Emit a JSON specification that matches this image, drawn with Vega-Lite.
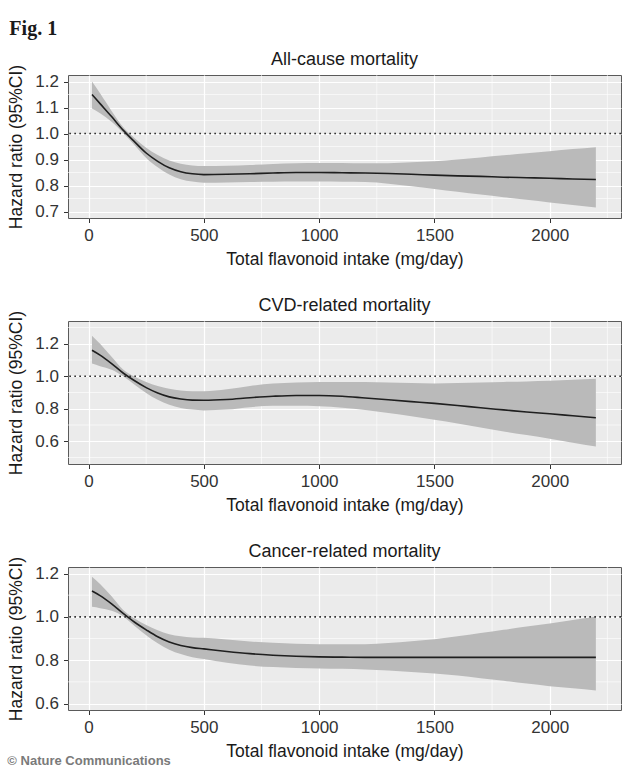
{
  "$schema": "https://vega.github.io/schema/vega-lite/v6.json",
  "padding": {"left": 7, "top": 19, "right": 5, "bottom": 0},
  "config": {
    "font": "Liberation Sans",
    "view": {"fill": "#ebebeb", "stroke": "#5a5a5a", "strokeWidth": 1},
    "axis": {"domain": false, "tickColor": "#333333", "tickSize": 4.5, "tickWidth": 1, "tickCount": 30, "labelFontSize": 17, "labelColor": "#333333", "labelPadding": 5, "titleFontSize": 17.5, "titleFontWeight": "normal", "titleColor": "#1a1a1a", "gridColor": "#ffffff", "gridWidth": 1.2, "labelOverlap": false, "labelFlush": false},
    "axisX": {"titlePadding": 7},
    "axisY": {"titlePadding": 9},
    "title": {"fontSize": 18, "fontWeight": "normal", "color": "#1a1a1a", "anchor": "middle", "frame": "group", "offset": -4.5}
  },
  "title": {"text": "© Nature Communications", "orient": "bottom", "anchor": "start", "frame": "bounds", "font": "Liberation Sans", "fontSize": 13, "fontWeight": "bold", "color": "#7a7a7a", "offset": -6},
  "datasets": {
    "one": [{}],
    "xminor": [{"v": 250}, {"v": 750}, {"v": 1250}, {"v": 1750}, {"v": 2250}],
    "yminor1": [{"v": 0.75}, {"v": 0.85}, {"v": 0.95}, {"v": 1.05}, {"v": 1.15}],
    "yminor2": [{"v": 0.5}, {"v": 0.7}, {"v": 0.9}, {"v": 1.1}, {"v": 1.3}],
    "yminor3": [{"v": 0.7}, {"v": 0.9}, {"v": 1.1}],
    "allcause": [
      {"x": 15, "est": 1.15, "lo": 1.096, "hi": 1.2},
      {"x": 50, "est": 1.115, "lo": 1.078, "hi": 1.155},
      {"x": 100, "est": 1.065, "lo": 1.045, "hi": 1.087},
      {"x": 150, "est": 1.013, "lo": 1.002, "hi": 1.025},
      {"x": 200, "est": 0.968, "lo": 0.955, "hi": 0.982},
      {"x": 250, "est": 0.925, "lo": 0.906, "hi": 0.945},
      {"x": 300, "est": 0.893, "lo": 0.87, "hi": 0.917},
      {"x": 350, "est": 0.868, "lo": 0.842, "hi": 0.896},
      {"x": 400, "est": 0.853, "lo": 0.824, "hi": 0.884},
      {"x": 450, "est": 0.845, "lo": 0.815, "hi": 0.877},
      {"x": 500, "est": 0.842, "lo": 0.811, "hi": 0.875},
      {"x": 600, "est": 0.843, "lo": 0.812, "hi": 0.876},
      {"x": 700, "est": 0.845, "lo": 0.813, "hi": 0.879},
      {"x": 800, "est": 0.848, "lo": 0.814, "hi": 0.883},
      {"x": 900, "est": 0.85, "lo": 0.815, "hi": 0.886},
      {"x": 1000, "est": 0.85, "lo": 0.815, "hi": 0.887},
      {"x": 1100, "est": 0.849, "lo": 0.814, "hi": 0.887},
      {"x": 1200, "est": 0.848, "lo": 0.813, "hi": 0.886},
      {"x": 1300, "est": 0.846, "lo": 0.807, "hi": 0.886},
      {"x": 1400, "est": 0.843, "lo": 0.797, "hi": 0.889},
      {"x": 1500, "est": 0.84, "lo": 0.787, "hi": 0.893},
      {"x": 1600, "est": 0.837, "lo": 0.776, "hi": 0.9},
      {"x": 1700, "est": 0.835, "lo": 0.765, "hi": 0.908},
      {"x": 1800, "est": 0.832, "lo": 0.755, "hi": 0.916},
      {"x": 1900, "est": 0.83, "lo": 0.745, "hi": 0.924},
      {"x": 2000, "est": 0.828, "lo": 0.735, "hi": 0.932},
      {"x": 2100, "est": 0.825, "lo": 0.725, "hi": 0.94},
      {"x": 2200, "est": 0.823, "lo": 0.715, "hi": 0.947}
    ],
    "cvd": [
      {"x": 15, "est": 1.16, "lo": 1.078, "hi": 1.25},
      {"x": 50, "est": 1.13, "lo": 1.062, "hi": 1.2},
      {"x": 100, "est": 1.078, "lo": 1.04, "hi": 1.12},
      {"x": 150, "est": 1.02, "lo": 1.0, "hi": 1.042},
      {"x": 200, "est": 0.972, "lo": 0.948, "hi": 0.997},
      {"x": 250, "est": 0.93, "lo": 0.897, "hi": 0.965},
      {"x": 300, "est": 0.897, "lo": 0.855, "hi": 0.94},
      {"x": 350, "est": 0.873, "lo": 0.825, "hi": 0.923},
      {"x": 400, "est": 0.86, "lo": 0.805, "hi": 0.913},
      {"x": 450, "est": 0.853, "lo": 0.795, "hi": 0.908},
      {"x": 500, "est": 0.852, "lo": 0.79, "hi": 0.908},
      {"x": 600, "est": 0.857, "lo": 0.795, "hi": 0.92},
      {"x": 700, "est": 0.868, "lo": 0.81, "hi": 0.94},
      {"x": 800, "est": 0.877, "lo": 0.818, "hi": 0.955},
      {"x": 900, "est": 0.882, "lo": 0.818, "hi": 0.962},
      {"x": 1000, "est": 0.882, "lo": 0.815, "hi": 0.965},
      {"x": 1100, "est": 0.877, "lo": 0.806, "hi": 0.965},
      {"x": 1200, "est": 0.866, "lo": 0.792, "hi": 0.964},
      {"x": 1300, "est": 0.855, "lo": 0.774, "hi": 0.962},
      {"x": 1400, "est": 0.844, "lo": 0.754, "hi": 0.959},
      {"x": 1500, "est": 0.833, "lo": 0.733, "hi": 0.956},
      {"x": 1600, "est": 0.82, "lo": 0.71, "hi": 0.958},
      {"x": 1700, "est": 0.806, "lo": 0.685, "hi": 0.962},
      {"x": 1800, "est": 0.793, "lo": 0.66, "hi": 0.965},
      {"x": 1900, "est": 0.78, "lo": 0.638, "hi": 0.968},
      {"x": 2000, "est": 0.769, "lo": 0.616, "hi": 0.972},
      {"x": 2100, "est": 0.757, "lo": 0.591, "hi": 0.978},
      {"x": 2200, "est": 0.745, "lo": 0.567, "hi": 0.984}
    ],
    "cancer": [
      {"x": 15, "est": 1.119, "lo": 1.046, "hi": 1.185},
      {"x": 50, "est": 1.098, "lo": 1.04, "hi": 1.152},
      {"x": 100, "est": 1.06, "lo": 1.028, "hi": 1.095},
      {"x": 150, "est": 1.016, "lo": 1.003, "hi": 1.032},
      {"x": 200, "est": 0.975, "lo": 0.958, "hi": 0.992},
      {"x": 250, "est": 0.94, "lo": 0.915, "hi": 0.962},
      {"x": 300, "est": 0.908, "lo": 0.878, "hi": 0.938},
      {"x": 350, "est": 0.884, "lo": 0.848, "hi": 0.92},
      {"x": 400, "est": 0.868, "lo": 0.828, "hi": 0.91},
      {"x": 450, "est": 0.858, "lo": 0.814, "hi": 0.905},
      {"x": 500, "est": 0.852, "lo": 0.805, "hi": 0.903},
      {"x": 600, "est": 0.84, "lo": 0.788, "hi": 0.895},
      {"x": 700, "est": 0.83, "lo": 0.775, "hi": 0.886},
      {"x": 800, "est": 0.823, "lo": 0.768, "hi": 0.88},
      {"x": 900, "est": 0.818, "lo": 0.764, "hi": 0.876},
      {"x": 1000, "est": 0.815, "lo": 0.762, "hi": 0.874},
      {"x": 1100, "est": 0.814, "lo": 0.76, "hi": 0.873},
      {"x": 1200, "est": 0.813, "lo": 0.757, "hi": 0.874},
      {"x": 1300, "est": 0.813, "lo": 0.752, "hi": 0.879},
      {"x": 1400, "est": 0.813, "lo": 0.745, "hi": 0.887},
      {"x": 1500, "est": 0.813, "lo": 0.738, "hi": 0.896},
      {"x": 1600, "est": 0.813, "lo": 0.729, "hi": 0.91},
      {"x": 1700, "est": 0.813, "lo": 0.717, "hi": 0.925},
      {"x": 1800, "est": 0.813, "lo": 0.705, "hi": 0.94},
      {"x": 1900, "est": 0.813, "lo": 0.692, "hi": 0.955},
      {"x": 2000, "est": 0.813, "lo": 0.68, "hi": 0.969},
      {"x": 2100, "est": 0.813, "lo": 0.67, "hi": 0.985},
      {"x": 2200, "est": 0.813, "lo": 0.66, "hi": 1.0}
    ]
  },
  "vconcat": [
    {
      "title": {"text": "Fig. 1", "anchor": "start", "frame": "bounds", "font": "Liberation Serif", "fontSize": 20, "fontWeight": "bold", "color": "#1a1a1a", "offset": 11, "dx": 2},
      "spacing": 27,
      "vconcat": [
        {
          "width": 553, "height": 143,
          "title": {"text": "All-cause mortality"},
          "layer": [
            {
              "data": {"name": "xminor"},
              "mark": {"type": "rule", "color": "#ffffff", "strokeWidth": 0.6},
              "encoding": {"x": {"field": "v", "type": "quantitative"}}
            },
            {
              "data": {"name": "yminor1"},
              "mark": {"type": "rule", "color": "#ffffff", "strokeWidth": 0.6},
              "encoding": {"y": {"field": "v", "type": "quantitative"}}
            },
            {
              "data": {"name": "allcause"},
              "mark": {"type": "area", "color": "#bababa", "interpolate": "monotone"},
              "encoding": {
                "x": {"field": "x", "type": "quantitative", "scale": {"domain": [-89, 2309], "nice": false, "zero": false},
                  "axis": {"title": "Total flavonoid intake (mg/day)", "values": [0, 500, 1000, 1500, 2000], "format": "d"}},
                "y": {"field": "lo", "type": "quantitative", "scale": {"domain": [0.675, 1.225], "nice": false, "zero": false},
                  "axis": {"title": "Hazard ratio (95%CI)", "values": [0.7, 0.8, 0.9, 1.0, 1.1, 1.2], "format": ".1f", "tickCount": 30}},
                "y2": {"field": "hi"}
              }
            },
            {
              "data": {"name": "one"},
              "mark": {"type": "rule", "color": "#333333", "strokeDash": [1.7, 3.3], "strokeWidth": 1.7},
              "encoding": {"y": {"datum": 1}}
            },
            {
              "data": {"name": "allcause"},
              "mark": {"type": "line", "color": "#1f1f1f", "strokeWidth": 1.6, "interpolate": "monotone"},
              "encoding": {
                "x": {"field": "x", "type": "quantitative"},
                "y": {"field": "est", "type": "quantitative"}
              }
            }
          ]
        },
        {
          "width": 553, "height": 143,
          "title": {"text": "CVD-related mortality"},
          "layer": [
            {
              "data": {"name": "xminor"},
              "mark": {"type": "rule", "color": "#ffffff", "strokeWidth": 0.6},
              "encoding": {"x": {"field": "v", "type": "quantitative"}}
            },
            {
              "data": {"name": "yminor2"},
              "mark": {"type": "rule", "color": "#ffffff", "strokeWidth": 0.6},
              "encoding": {"y": {"field": "v", "type": "quantitative"}}
            },
            {
              "data": {"name": "cvd"},
              "mark": {"type": "area", "color": "#bababa", "interpolate": "monotone"},
              "encoding": {
                "x": {"field": "x", "type": "quantitative", "scale": {"domain": [-89, 2309], "nice": false, "zero": false},
                  "axis": {"title": "Total flavonoid intake (mg/day)", "values": [0, 500, 1000, 1500, 2000], "format": "d"}},
                "y": {"field": "lo", "type": "quantitative", "scale": {"domain": [0.46, 1.34], "nice": false, "zero": false},
                  "axis": {"title": "Hazard ratio (95%CI)", "values": [0.6, 0.8, 1.0, 1.2], "format": ".1f", "tickCount": 30}},
                "y2": {"field": "hi"}
              }
            },
            {
              "data": {"name": "one"},
              "mark": {"type": "rule", "color": "#333333", "strokeDash": [1.7, 3.3], "strokeWidth": 1.7},
              "encoding": {"y": {"datum": 1}}
            },
            {
              "data": {"name": "cvd"},
              "mark": {"type": "line", "color": "#1f1f1f", "strokeWidth": 1.6, "interpolate": "monotone"},
              "encoding": {
                "x": {"field": "x", "type": "quantitative"},
                "y": {"field": "est", "type": "quantitative"}
              }
            }
          ]
        },
        {
          "width": 553, "height": 143,
          "title": {"text": "Cancer-related mortality"},
          "layer": [
            {
              "data": {"name": "xminor"},
              "mark": {"type": "rule", "color": "#ffffff", "strokeWidth": 0.6},
              "encoding": {"x": {"field": "v", "type": "quantitative"}}
            },
            {
              "data": {"name": "yminor3"},
              "mark": {"type": "rule", "color": "#ffffff", "strokeWidth": 0.6},
              "encoding": {"y": {"field": "v", "type": "quantitative"}}
            },
            {
              "data": {"name": "cancer"},
              "mark": {"type": "area", "color": "#bababa", "interpolate": "monotone"},
              "encoding": {
                "x": {"field": "x", "type": "quantitative", "scale": {"domain": [-89, 2309], "nice": false, "zero": false},
                  "axis": {"title": "Total flavonoid intake (mg/day)", "values": [0, 500, 1000, 1500, 2000], "format": "d"}},
                "y": {"field": "lo", "type": "quantitative", "scale": {"domain": [0.57, 1.23], "nice": false, "zero": false},
                  "axis": {"title": "Hazard ratio (95%CI)", "values": [0.6, 0.8, 1.0, 1.2], "format": ".1f", "tickCount": 30}},
                "y2": {"field": "hi"}
              }
            },
            {
              "data": {"name": "one"},
              "mark": {"type": "rule", "color": "#333333", "strokeDash": [1.7, 3.3], "strokeWidth": 1.7},
              "encoding": {"y": {"datum": 1}}
            },
            {
              "data": {"name": "cancer"},
              "mark": {"type": "line", "color": "#1f1f1f", "strokeWidth": 1.6, "interpolate": "monotone"},
              "encoding": {
                "x": {"field": "x", "type": "quantitative"},
                "y": {"field": "est", "type": "quantitative"}
              }
            }
          ]
        }
      ]
    }
  ]
}
